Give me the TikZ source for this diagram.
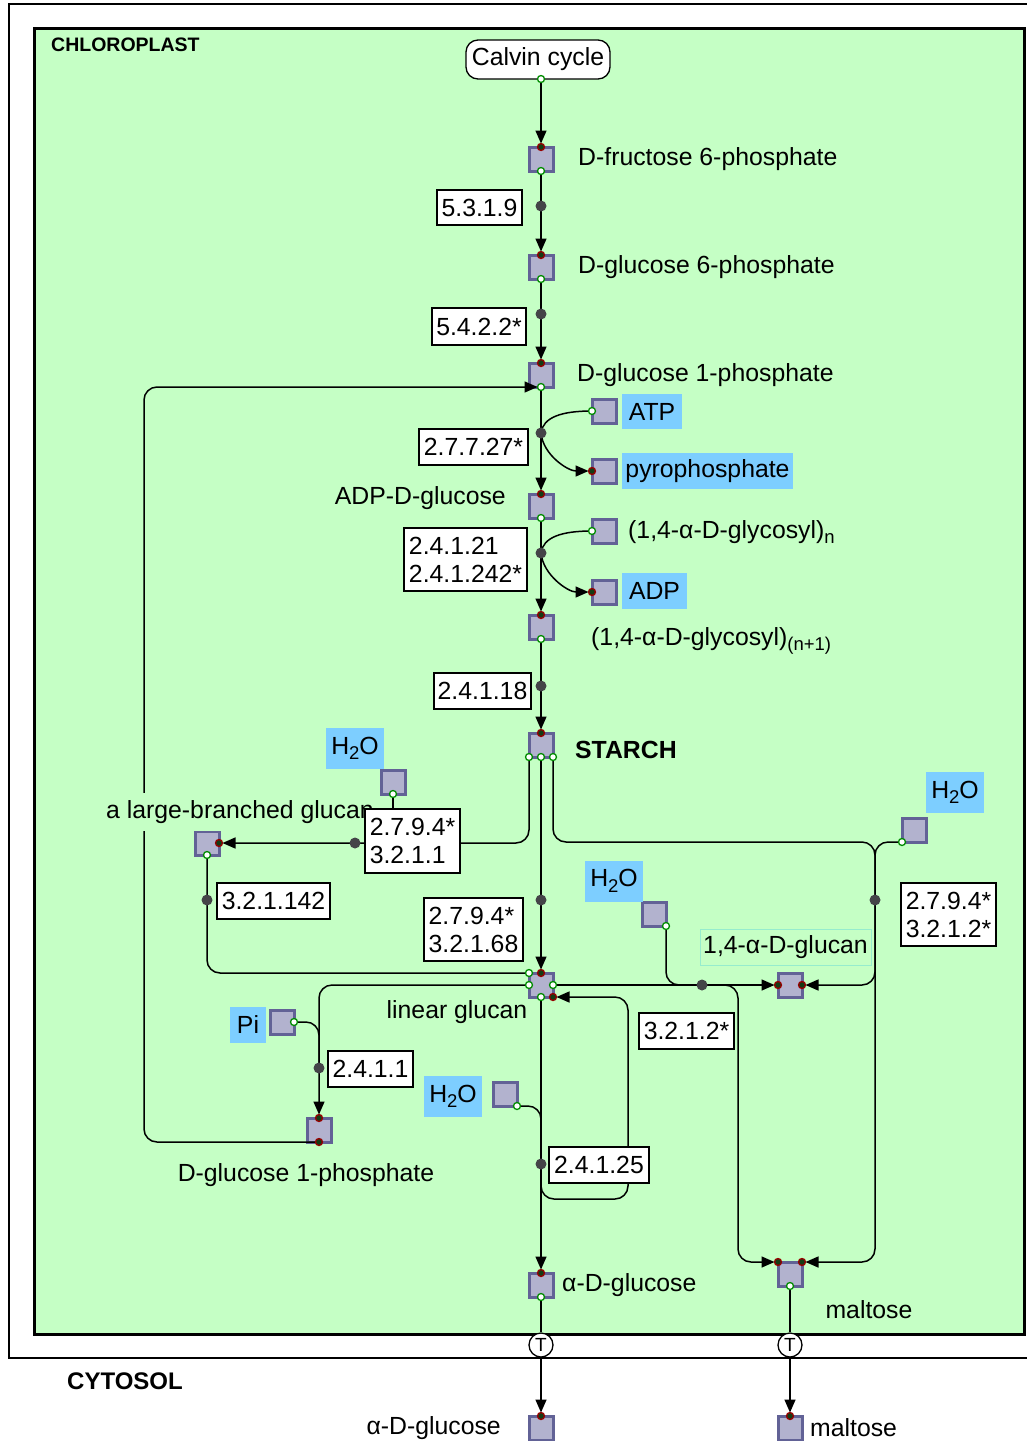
\documentclass[tikz,border=0pt]{standalone}
\usepackage{fontspec}
\setmainfont{Liberation Sans}
\usetikzlibrary{arrows.meta}
\definecolor{chlgreen}{RGB}{197,255,197}
\definecolor{metfill}{RGB}{178,178,206}
\definecolor{metdraw}{RGB}{98,98,150}
\definecolor{skyb}{RGB}{125,206,255}
\definecolor{dotgrey}{RGB}{68,68,72}
\definecolor{mintborder}{RGB}{150,236,205}
\definecolor{portgreen}{RGB}{0,140,0}
\definecolor{portred}{RGB}{150,0,0}
\definecolor{portfill}{RGB}{20,60,20}
\newcommand\mfs{\fontsize{24.8}{28}\selectfont}
\newcommand\lowsub[1]{\raisebox{-5.5pt}{\fontsize{18.5}{20}\selectfont #1}}
\tikzset{
  met/.style={draw=metdraw, fill=metfill, line width=3pt, minimum size=24pt, inner sep=0pt, outer sep=0pt},
  enz/.style={draw=black, fill=white, line width=1.3pt, inner sep=0pt, align=left, font=\mfs},
  rdot/.style={circle, fill=dotgrey, inner sep=0pt, minimum size=11pt},
  conn/.style={line width=1.5pt, rounded corners=13pt},
  arr/.style={conn, -{Triangle[length=13pt,width=11pt]}, shorten >=3.5pt},
  pout/.style={circle, draw=portgreen, fill=white, line width=1.3pt, inner sep=0pt, minimum size=7pt},
  pin/.style={circle, draw=portred, fill=portfill, line width=1.3pt, inner sep=0pt, minimum size=7pt},
  side/.style={fill=skyb, inner sep=0pt, font=\mfs},
  lbl/.style={font=\mfs, inner sep=0pt},
  tnode/.style={circle, draw=black, fill=white, line width=1.3pt, minimum size=24pt, inner sep=0pt, font=\fontsize{19}{20}\selectfont},
  comp/.style={font=\bfseries\fontsize{24}{28}\selectfont, inner sep=0pt}
}
\begin{document}
\begin{tikzpicture}[x=1pt,y=-1pt]
\useasboundingbox (0,0) rectangle (1027,1441);
\fill[white] (0,0) rectangle (1027,1441);
\draw[line width=2.8pt] (9,4) rectangle (1080,1358);
\draw[line width=3pt, fill=chlgreen] (34,28) rectangle (1024,1334);
\node[comp, anchor=west, font=\bfseries\fontsize{19.5}{22}\selectfont] (chl) at (51,45) {CHLOROPLAST};
\node[comp, anchor=west] (cyt) at (67,1381) {CYTOSOL};

\node[draw, fill=white, rounded corners=12pt, line width=1.3pt, minimum width=144pt, minimum height=39pt, font=\mfs, inner sep=0pt] (calvin) at (538,59.5) {Calvin cycle};
\coordinate (calvinp) at (541,79);

% metabolites
\node[met] (f6p) at (541,159) {};
\node[met] (g6p) at (541,267) {};
\node[met] (g1p) at (541,375) {};
\node[met] (adpg) at (541,506) {};
\node[met] (glyn1) at (541,627) {};
\node[met] (starch) at (541,745) {};
\node[met] (lin) at (541,985) {};
\node[met] (glc14) at (790,985) {};
\node[met] (agluc) at (541,1285) {};
\node[met] (malt) at (790,1274) {};
\node[met] (lbg) at (207,843) {};
\node[met] (g1pb) at (319,1130) {};
\node[met] (aglucc) at (541,1428) {};
\node[met] (maltc) at (790,1428) {};
\node[met] (atp) at (604,411) {};
\node[met] (ppi) at (604,471) {};
\node[met] (glyn) at (604,531) {};
\node[met] (adp) at (604,592) {};
\node[met] (wa) at (393,782) {};
\node[met] (wb) at (914,830) {};
\node[met] (wc) at (654,914) {};
\node[met] (pi) at (282,1022) {};
\node[met] (wd) at (505,1094) {};

% reaction points and bends
\coordinate (d1) at (541,206);
\coordinate (d2) at (541,314);
\coordinate (d3) at (541,433);
\coordinate (d4) at (541,553);
\coordinate (d5) at (541,686);
\coordinate (d6) at (355,843);
\coordinate (d7) at (207,900);
\coordinate (d8) at (541,900);
\coordinate (d9) at (875,900);
\coordinate (d10) at (702,985);
\coordinate (d11) at (319,1068);
\coordinate (d12) at (541,1164);
\coordinate (jr) at (875,842);
\coordinate (jr2) at (875,870);
\coordinate (jm) at (738,985);
\coordinate (jd) at (541,1140);
\coordinate (lx) at (144,760);
\coordinate (loopc) at (628,1199);

\node[tnode] (t1) at (541,1345) {T};
\node[tnode] (t2) at (790,1345) {T};

% connectors
\draw[arr] (calvinp) -- (f6p.north);
\draw[arr] (f6p.south) -- (d1) -- (g6p.north);
\draw[arr] (g6p.south) -- (d2) -- (g1p.north);
\draw[arr] (g1p.south) -- (d3) -- (adpg.north);
\draw[conn] (atp.west) .. controls +(-30,0) and +(2,-16) .. (d3);
\draw[arr] (d3) .. controls +(2,22) and +(-24,0) .. (ppi.west);
\draw[arr] (adpg.south) -- (d4) -- (glyn1.north);
\draw[conn] (glyn.west) .. controls +(-30,0) and +(2,-16) .. (d4);
\draw[arr] (d4) .. controls +(2,22) and +(-24,0) .. (adp.west);
\draw[arr] (glyn1.south) -- (d5) -- (starch.north);
\draw[arr] (starch.south west) |- (d6) -- (lbg.east);
\draw[conn] (wa.south) -- (wa.south |- d6);
\draw[arr] (starch.south) -- (d8) -- (lin.north);
\draw[conn] (starch.south east) |- (jr) -- (jr2);
\draw[conn] (wb.south west) -- (jr) -- (jr2);
\draw[arr] (jr2) -- (d9) |- (glc14.east);
\draw[arr] (jr2) |- (malt.north east);
\draw[conn] (lbg.south) -- (d7) |- (lin.north west);
\draw[arr] (lin.west) -| (g1pb.north);
\draw[conn] (pi.east) -| (d11);
\draw[arr] (lin.east) -- (d10) -- (glc14.west);
\draw[conn] (wc.south east) |- (d10);
\draw[arr] (d10) -- (jm) |- (malt.north west);
\draw[arr] (lin.south) -- (d12) -- (agluc.north);
\draw[conn] (wd.south east) -| (jd);
\draw[arr] (d12) |- (loopc) |- (lin.south east);
\draw[arr] (g1pb.south) -| (lx) |- (g1p.south);
\draw[conn] (agluc.south) -- (t1);
\draw[arr] (t1) -- (aglucc.north);
\draw[conn] (malt.south) -- (t2);
\draw[arr] (t2) -- (maltc.north);

\node[lbl, fill=chlgreen, anchor=west, inner xsep=1pt, inner ysep=7pt] (lbgl) at (105,812) {a large-branched glucan};

% enzymes
\node[enz, minimum width=85pt, minimum height=35pt] (e1) at (479.5,207.5) {5.3.1.9};
\node[enz, minimum width=94pt, minimum height=37pt] (e2) at (479,326.5) {5.4.2.2*};
\node[enz, minimum width=109pt, minimum height=36pt] (e3) at (473.5,447) {2.7.7.27*};
\node[enz, minimum width=123pt, minimum height=63pt] (e4) at (465.5,559.5) {2.4.1.21\\2.4.1.242*};
\node[enz, minimum width=97pt, minimum height=36pt] (e5) at (482.5,691) {2.4.1.18};
\node[enz, minimum width=95pt, minimum height=64pt] (e6) at (412.5,841) {2.7.9.4*\\3.2.1.1};
\node[enz, minimum width=113pt, minimum height=36pt] (e7) at (273.5,901) {3.2.1.142};
\node[enz, minimum width=99pt, minimum height=63pt] (e8) at (473.5,929.5) {2.7.9.4*\\3.2.1.68};
\node[enz, minimum width=95pt, minimum height=63pt] (e9) at (948.5,914.5) {2.7.9.4*\\3.2.1.2*};
\node[enz, minimum width=95pt, minimum height=36pt] (e10) at (686.5,1031) {3.2.1.2*};
\node[enz, minimum width=85pt, minimum height=36pt] (e11) at (370.5,1069) {2.4.1.1};
\node[enz, minimum width=100pt, minimum height=36pt] (e12) at (599,1165) {2.4.1.25};

\foreach \d in {d1,d2,d3,d4,d5,d6,d7,d8,d9,d10,d11,d12} \node[rdot] at (\d) {};

% ports
\foreach \p in {calvinp, f6p.south, g6p.south, g1p.south, adpg.south, glyn1.south, starch.south west, starch.south, starch.south east, lin.north west, lin.west, lin.east, lin.south, malt.south, agluc.south, lbg.south, atp.west, glyn.west, wa.south, wb.south west, wc.south east, pi.east, wd.south east}
  \node[pout] at (\p) {};
\foreach \p in {f6p.north, g6p.north, g1p.north, adpg.north, glyn1.north, starch.north, lin.north, lin.south east, glc14.west, glc14.east, malt.north west, malt.north east, agluc.north, lbg.east, g1pb.north, g1pb.south, ppi.west, adp.west, aglucc.north, maltc.north}
  \node[pin] at (\p) {};

% labels
\node[lbl, anchor=west] (lf6p) at (578,159) {D-fructose 6-phosphate};
\node[lbl, anchor=west] (lg6p) at (578,267) {D-glucose 6-phosphate};
\node[lbl, anchor=west] (lg1p) at (577,375) {D-glucose 1-phosphate};
\node[lbl, anchor=east] (ladpg) at (506,498) {ADP-D-glucose};
\node[lbl, anchor=west] (lglyn) at (628,532) {(1,4-α-D-glycosyl)\lowsub{n}};
\node[lbl, anchor=west] (lglyn1) at (591,641) {(1,4-α-D-glycosyl)\lowsub{(n+1)}};
\node[lbl, anchor=west, font=\bfseries\mfs] (lstarch) at (575,750) {STARCH};
\node[lbl, draw=mintborder, line width=0.8pt, minimum width=171pt, minimum height=36pt] (lglc14) at (785.5,947) {1,4-α-D-glucan};
\node[lbl] (llin) at (457,1012) {linear glucan};
\node[lbl] (lg1pb) at (306,1175) {D-glucose 1-phosphate};
\node[lbl, anchor=west] (lagluc) at (562,1285) {α-D-glucose};
\node[lbl] (lmalt) at (869,1310) {maltose};
\node[lbl, anchor=east] (laglucc) at (501,1428) {α-D-glucose};
\node[lbl, anchor=west] (lmaltc) at (810,1428) {maltose};

\node[side, minimum width=60pt, minimum height=35pt] (latp) at (652,411.5) {ATP};
\node[side, minimum width=171pt, minimum height=36pt] (lppi) at (707.5,471) {pyrophosphate};
\node[side, minimum width=65pt, minimum height=36pt] (ladp) at (654.5,591) {ADP};
\node[side, minimum width=58pt, minimum height=41pt] (lwa) at (355,748.5) {H\lowsub{2}O};
\node[side, minimum width=58pt, minimum height=41pt] (lwb) at (955,792.5) {H\lowsub{2}O};
\node[side, minimum width=58pt, minimum height=41pt] (lwc) at (614,881) {H\lowsub{2}O};
\node[side, minimum width=36pt, minimum height=36pt] (lpi) at (248,1025) {Pi};
\node[side, minimum width=58pt, minimum height=41pt] (lwd) at (453,1096.5) {H\lowsub{2}O};
\end{tikzpicture}
\end{document}
